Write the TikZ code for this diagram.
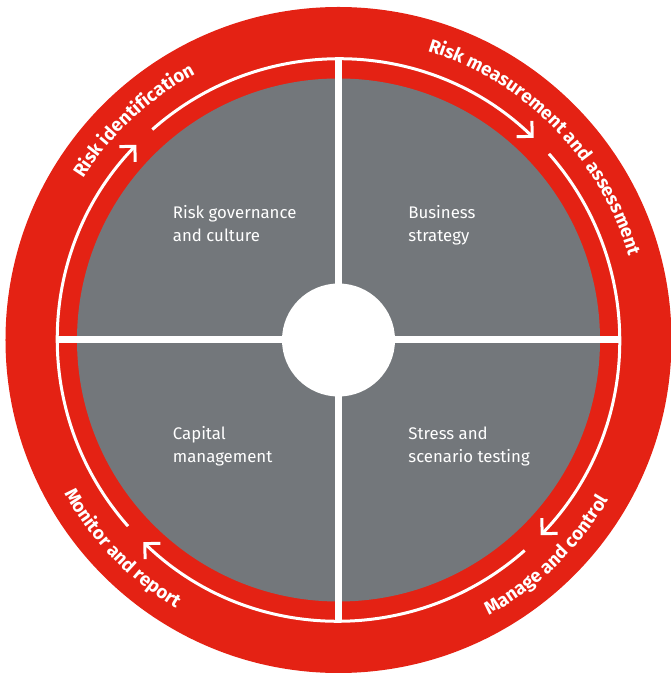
\documentclass[tikz,border=0pt]{standalone}
\usepackage{fontspec}
\setmainfont{Fira Sans}
\usepackage{tikz}
\usetikzlibrary{arrows.meta}
\usetikzlibrary{decorations.text}
\definecolor{Rot}{RGB}{228,34,20}
\definecolor{Grau}{RGB}{115,119,123}
\tikzset{
  Ring/.style={white, line width=1.5pt}, % weisse Kreislinie
  RPfeil/.style={Ring, -{Straight Barb[length=5.5pt,width=11pt]}}, % Pfeil auf dem Ring
  Kreuz/.style={white, line width=3.5pt}, % Trennlinien
  Feld/.style={text=white, align=left, inner sep=0pt, font=\fontsize{8.4}{11.5}\selectfont}, % Text in den Feldern
  Bogentext/.style={decorate, decoration={text along path, text align=center,
    text color=white, text={|\bfseries\fontsize{9.3}{10}\selectfont|#1}}} % Text im roten Ring
}
\begin{document}
\begin{tikzpicture}[x=0.5pt, y=0.5pt]
\useasboundingbox (-338.5,-333) rectangle (331.5,340);
\coordinate (M) at (0,0);

%Kreisflaechen
\fill[Rot] (M) circle[radius=333];
\fill[Grau] (M) circle[radius=261.5];

%Enden der Trennlinien
\coordinate (N) at (90:281);
\coordinate (S) at (-90:281);
\coordinate (W) at (180:281);
\coordinate (O) at (0:281);

%Trennlinien
\draw[Kreuz] (W) -- (O);
\draw[Kreuz] (N) -- (S);
\node[circle, fill=white, minimum size=56.5pt, inner sep=0pt] (Z) at (M) {};

%Ring mit Pfeilen
\foreach \a [evaluate=\a as \s using \a+41.5, evaluate=\a as \e using \a-44] in {180,90,0,-90}
  \draw[RPfeil] ([shift=(\s:281)]M) arc[start angle=\s, end angle=\e, radius=281];

%Bogentexte
\path[Bogentext=Risk identification]
  ([shift=(173:302)]M) arc[start angle=173, end angle=93, radius=302];
\path[Bogentext=Risk measurement and assessment]
  ([shift=(84.5:302)]M) arc[start angle=84.5, end angle=4.5, radius=302];
\path[Bogentext=Manage and control]
  ([shift=(-86:314)]M) arc[start angle=-86, end angle=-6, radius=314];
\path[Bogentext=Monitor and report]
  ([shift=(184:314)]M) arc[start angle=184, end angle=264, radius=314];

%Felder (Anker: Grundlinie der letzten Zeile)
\node[Feld, anchor=base west] (RG) at (-166,98) {Risk governance\\and culture};
\node[Feld, anchor=base west] (BS) at (69.5,98) {Business\\strategy};
\node[Feld, anchor=base west] (CM) at (-166,-123) {Capital\\management};
\node[Feld, anchor=base west] (ST) at (69.5,-123) {Stress and\\scenario testing};

\end{tikzpicture}
\end{document}
